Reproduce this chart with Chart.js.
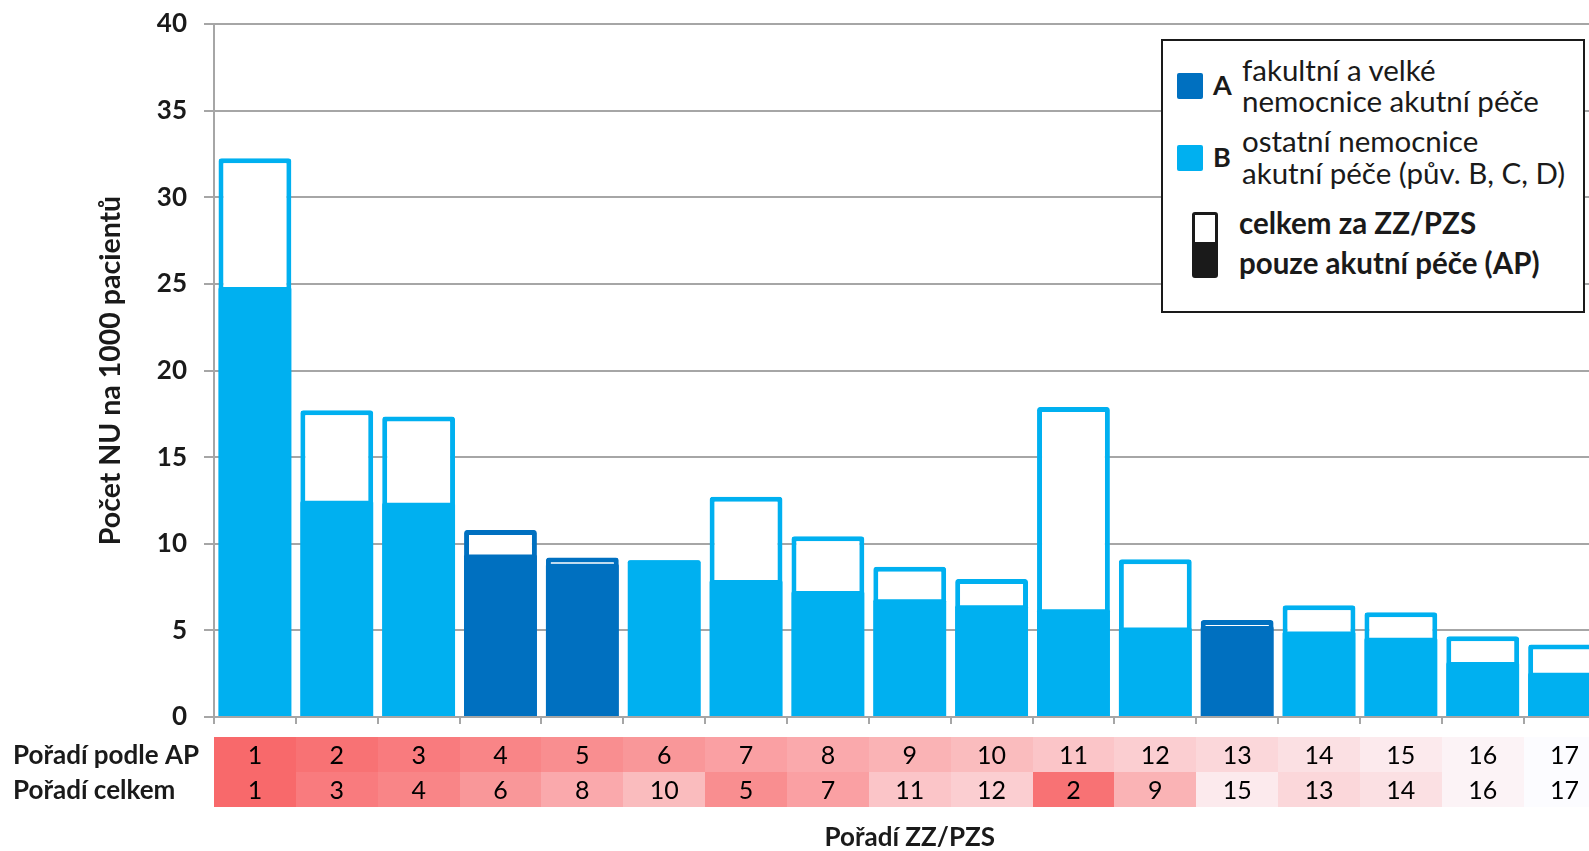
<!DOCTYPE html>
<html lang="cs">
<head>
<meta charset="utf-8">
<title>Počet NU na 1000 pacientů</title>
<script src="https://cdn.jsdelivr.net/npm/chart.js@4.4.0/dist/chart.umd.min.js"></script>
<style>
  html, body { margin: 0; padding: 0; background: #fff; overflow: hidden; }
  #wrap { position: relative; width: 1610px; height: 851px; }
  canvas { display: block; }
  #legend {
    position: absolute; left: 1161px; top: 39px; width: 424px; height: 274px;
    box-sizing: border-box; border: 2px solid #1a1a1a; background: #fff;
    font-family: Lato, sans-serif; color: #1a1a1a;
  }
  #legend div { position: absolute; white-space: nowrap; }
  .sq { width: 26px; height: 26px; border-radius: 2px; }
  .grp { font-weight: bold; font-size: 27px; line-height: 27px; }
  .txt { font-size: 29.5px; line-height: 31.4px; }
  .bold { font-weight: bold; font-size: 29.5px; line-height: 40px; }
  .icon { width: 26px; height: 66px; box-sizing: border-box; border: 3px solid #1a1a1a; border-radius: 3px;
          background: linear-gradient(#fff 0, #fff 45%, #1a1a1a 45%, #1a1a1a 100%); }
</style>
</head>
<body>
<div id="wrap">
  <canvas id="chart" width="1610" height="851"></canvas>
  <div id="legend">
    <div class="sq" style="left:14px; top:32px; background:#0070C0;"></div>
    <div class="grp" style="left:50px; top:30px;">A</div>
    <div class="txt" style="left:79px; top:12.6px;">fakultní a velké<br>nemocnice akutní péče</div>
    <div class="sq" style="left:14px; top:104px; background:#00B0F0;"></div>
    <div class="grp" style="left:50px; top:102.4px;">B</div>
    <div class="txt" style="left:79px; top:84.4px;">ostatní nemocnice<br>akutní péče (pův. B, C, D)</div>
    <div class="icon" style="left:29px; top:171px;"></div>
    <div class="bold" style="left:76px; top:161.8px;">celkem za ZZ/PZS<br>pouze akutní péče (AP)</div>
  </div>
</div>
<script>
// pořadí zařízení (osa x) a hodnoty
const poradiAP = [1, 2, 3, 4, 5, 6, 7, 8, 9, 10, 11, 12, 13, 14, 15, 16, 17];
const poradiCelkem = [1, 3, 4, 6, 8, 10, 5, 7, 11, 12, 2, 9, 15, 13, 14, 16, 17];
const skupina = ['B', 'B', 'B', 'A', 'A', 'B', 'B', 'B', 'B', 'B', 'B', 'B', 'A', 'B', 'B', 'B', 'B'];
const celkem = [32.25, 17.7, 17.35, 10.8, 9.2, 9.05, 12.72, 10.43, 8.67, 7.97, 17.9, 9.1, 5.6, 6.45, 6.04, 4.66, 4.18];
const pouzeAP = [24.82, 12.48, 12.36, 9.38, 8.85, 9.05, 7.91, 7.27, 6.8, 6.45, 6.22, 5.16, 5.25, 4.93, 4.58, 3.18, 2.56];
const radkyTabulky = ['Pořadí podle AP', 'Pořadí celkem'];

const BARVA_A = '#0070C0';
const BARVA_B = '#00B0F0';
const SEDA = '#A6A6A6';
const TEXT = '#1a1a1a';
const FONT = 'Lato, sans-serif';

const barvy = skupina.map(s => s === 'A' ? BARVA_A : BARVA_B);

// barevná škála červená -> bílá podle pořadí
function barvaPoradi(v) {
    const t = (v - 1) / (poradiAP.length - 1);
    const a = [248, 105, 107], b = [252, 252, 255];
    const c = a.map((x, i) => Math.round(x + (b[i] - x) * t));
    return `rgb(${c[0]},${c[1]},${c[2]})`;
}

// tabulka pořadí pod osou x
const tabulkaPlugin = {
    id: 'tabulkaPoradi',
    afterDraw(chart) {
        const ctx = chart.ctx;
        const x = chart.scales.x;
        const krok = (x.right - x.left) / poradiAP.length;
        const rowTop = [737, 772];
        const rowH = 35;
        ctx.save();
        [poradiAP, poradiCelkem].forEach((row, r) => {
            row.forEach((v, i) => {
                const cx = x.getPixelForValue(i);
                const l = Math.round(cx - krok / 2);
                const p = Math.round(cx + krok / 2);
                ctx.fillStyle = barvaPoradi(v);
                ctx.fillRect(l, rowTop[r], p - l, rowH);
                ctx.fillStyle = '#000';
                ctx.font = `25px ${FONT}`;
                ctx.textAlign = 'center';
                ctx.textBaseline = 'middle';
                ctx.fillText(String(v), cx, rowTop[r] + rowH / 2 + 1);
            });
            ctx.fillStyle = TEXT;
            ctx.font = `bold 26px ${FONT}`;
            ctx.textAlign = 'left';
            ctx.textBaseline = 'middle';
            ctx.fillText(radkyTabulky[r], 13, rowTop[r] + rowH / 2 + 1);
        });
        ctx.restore();
    }
};

const ctx = document.getElementById('chart').getContext('2d');
new Chart(ctx, {
    type: 'bar',
    data: {
        labels: poradiAP.map(String),
        datasets: [
            {
                label: 'pouze akutní péče (AP)',
                data: pouzeAP,
                backgroundColor: barvy,
                borderWidth: 0,
                borderRadius: 2,
                grouped: false,
                order: 0,
                barPercentage: 0.89,
                categoryPercentage: 1
            },
            {
                label: 'celkem za ZZ/PZS',
                data: celkem,
                backgroundColor: '#ffffff',
                borderColor: barvy,
                borderWidth: 5,
                borderSkipped: 'start',
                borderRadius: 3,
                grouped: false,
                order: 1,
                barPercentage: 0.89,
                categoryPercentage: 1
            }
        ]
    },
    options: {
        responsive: false,
        animation: false,
        layout: { padding: { top: 0, right: 4.5, left: 0, bottom: 0 } },
        plugins: {
            legend: { display: false },
            tooltip: { enabled: false }
        },
        scales: {
            x: {
                ticks: { display: false },
                grid: { offset: true, drawOnChartArea: false, drawTicks: true, tickLength: 7, color: SEDA, lineWidth: 2 },
                border: { color: SEDA, width: 2 },
                title: {
                    display: true,
                    text: 'Pořadí ZZ/PZS',
                    color: TEXT,
                    font: { family: FONT, size: 26, weight: 'bold', lineHeight: 1 },
                    padding: { top: 0, bottom: 0 }
                },
                afterFit(scale) { scale.height = 134; }
            },
            y: {
                min: 0,
                max: 40,
                ticks: {
                    stepSize: 5,
                    color: TEXT,
                    padding: 17,
                    font: { family: FONT, size: 26, weight: 'bold' }
                },
                grid: { color: SEDA, lineWidth: 2, tickLength: 10 },
                border: { color: SEDA, width: 2 },
                title: {
                    display: true,
                    text: 'Počet NU na 1000 pacientů',
                    color: TEXT,
                    font: { family: FONT, size: 28.5, weight: 'bold', lineHeight: 1.2 },
                    padding: { top: 94, bottom: 0 }
                },
                afterFit(scale) {
                    scale.width = 214;
                    scale.paddingTop = 24;
                }
            }
        }
    },
    plugins: [tabulkaPlugin]
});
</script>
</body>
</html>
